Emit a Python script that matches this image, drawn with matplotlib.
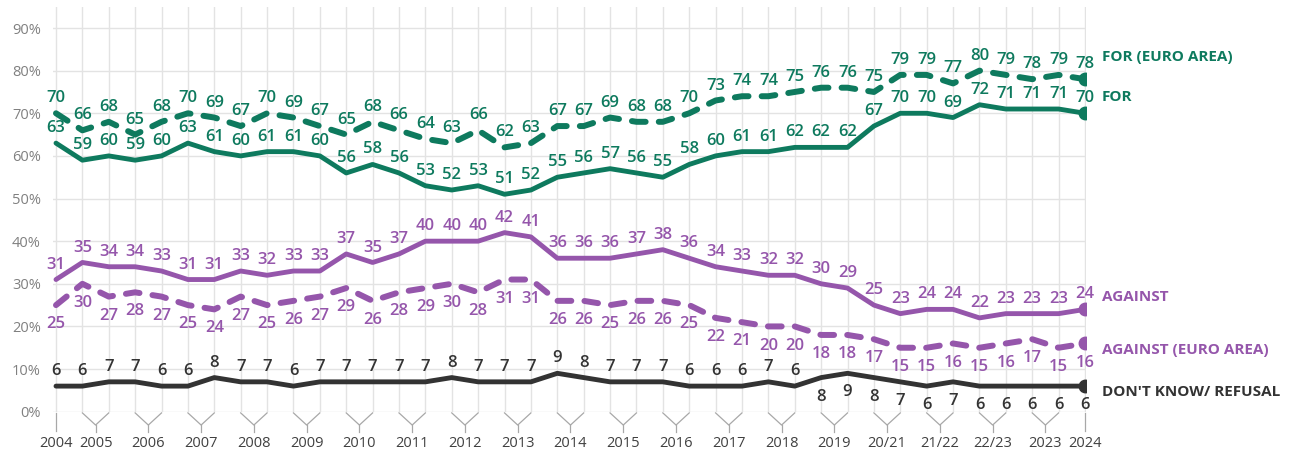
import matplotlib.pyplot as plt
import matplotlib.transforms as mtransforms

plt.rcParams['font.family'] = ['Open Sans', 'DejaVu Sans']

# ===== Data =====
for_all = [63, 59, 60, 59, 60, 63, 61, 60, 61, 61, 60, 56, 58, 56, 53, 52, 53, 51, 52, 55,
           56, 57, 56, 55, 58, 60, 61, 61, 62, 62, 62, 67, 70, 70, 69, 72, 71, 71, 71, 70]
for_euro = [70, 66, 68, 65, 68, 70, 69, 67, 70, 69, 67, 65, 68, 66, 64, 63, 66, 62, 63, 67,
            67, 69, 68, 68, 70, 73, 74, 74, 75, 76, 76, 75, 79, 79, 77, 80, 79, 78, 79, 78]
against_all = [31, 35, 34, 34, 33, 31, 31, 33, 32, 33, 33, 37, 35, 37, 40, 40, 40, 42, 41, 36,
               36, 36, 37, 38, 36, 34, 33, 32, 32, 30, 29, 25, 23, 24, 24, 22, 23, 23, 23, 24]
against_euro = [25, 30, 27, 28, 27, 25, 24, 27, 25, 26, 27, 29, 26, 28, 29, 30, 28, 31, 31, 26,
                26, 25, 26, 26, 25, 22, 21, 20, 20, 18, 18, 17, 15, 15, 16, 15, 16, 17, 15, 16]
dont_know = [6, 6, 7, 7, 6, 6, 8, 7, 7, 6, 7, 7, 7, 7, 7, 8, 7, 7, 7, 9,
             8, 7, 7, 7, 6, 6, 6, 7, 6, 8, 9, 8, 7, 6, 7, 6, 6, 6, 6, 6]

# year labels: single point (start/end) or centred on a pair of survey waves
year_labels = ['2004', '2005', '2006', '2007', '2008', '2009', '2010', '2011', '2012', '2013',
               '2014', '2015', '2016', '2017', '2018', '2019', '20/21', '21/22', '22/23', '2023', '2024']
year_points = [[0], [1, 2], [3, 4], [5, 6], [7, 8], [9, 10], [11, 12], [13, 14], [15, 16],
               [17, 18], [19, 20], [21, 22], [23, 24], [25, 26], [27, 28], [29, 30], [31, 32],
               [33, 34], [35, 36], [37, 38], [39]]

GREEN = '#0e7a5e'
PURPLE = '#9556ab'
DARK = '#333333'

x = list(range(len(for_all)))

fig = plt.figure(figsize=(12.92, 4.53), dpi=100)
ax = fig.add_axes([0.0413, 0.0912, 0.7995, 0.894])

dash = (0, (2.3, 2.2))
series = [
    # values, colour, style, label side, end label, end label offset (pts)
    (for_euro, GREEN, dash, 'above', 'FOR (EURO AREA)', 16),
    (for_all, GREEN, '-', 'above', 'FOR', 12),
    (against_all, PURPLE, '-', 'above', 'AGAINST', 9),
    (against_euro, PURPLE, dash, 'below', 'AGAINST (EURO AREA)', -5),
    (dont_know, DARK, '-', 'dk', "DON'T KNOW/ REFUSAL", -4),
]

for vals, col, ls, side, name, off in series:
    lw = 4.3 if ls != '-' else 3.5
    ax.plot(x, vals, color=col, lw=lw, linestyle=ls, solid_joinstyle='round',
            dash_capstyle='round', solid_capstyle='round', zorder=3)
    ax.plot(x[-1], vals[-1], 'o', color=col, ms=9, zorder=4)
    for i, v in enumerate(vals):
        below = side == 'below' or (side == 'dk' and i >= 29)
        if below:
            ax.annotate(str(v), (i, v), xytext=(0, -8), textcoords='offset points',
                        ha='center', va='top', color=col, fontsize=12, fontweight='semibold')
        else:
            ax.annotate(str(v), (i, v), xytext=(0, 5), textcoords='offset points',
                        ha='center', va='bottom', color=col, fontsize=12, fontweight='semibold')
    ax.annotate(name, (x[-1], vals[-1]), xytext=(12, off), textcoords='offset points',
                ha='left', va='center', color=col, fontsize=11, fontweight='bold',
                annotation_clip=False)

ax.set_xlim(-0.1, 39.05)
ax.set_ylim(0, 95)
ax.set_yticks(range(0, 91, 10))
ax.set_yticklabels([f'{t}%' for t in range(0, 91, 10)], color='#808080', fontsize=10.5)
ax.set_xticks(x)
ax.set_xticklabels([])
ax.tick_params(length=0)
ax.tick_params(axis='y', pad=9)
ax.grid(True, color='#e3e3e3', lw=1)
ax.set_axisbelow(True)
for s in ax.spines.values():
    s.set_visible(False)

# bracket-style year ticks below the axis
trans = mtransforms.blended_transform_factory(ax.transData, ax.transAxes)
bcol = '#a8a8a8'
for lab, pts in zip(year_labels, year_points):
    if len(pts) == 1:
        xc = pts[0]
        ax.plot([xc, xc], [-0.003, -0.047], color=bcol, lw=0.9, transform=trans, clip_on=False)
    else:
        xc = sum(pts) / 2
        ax.plot([pts[0], xc, pts[1]], [-0.003, -0.033, -0.003], color=bcol, lw=0.9,
                transform=trans, clip_on=False)
        ax.plot([xc, xc], [-0.033, -0.05], color=bcol, lw=0.9, transform=trans, clip_on=False)
    ax.text(xc, -0.078, lab, transform=trans, ha='center', va='center',
            fontsize=10.5, color='#404040')

fig.savefig('out.png', dpi=100)
